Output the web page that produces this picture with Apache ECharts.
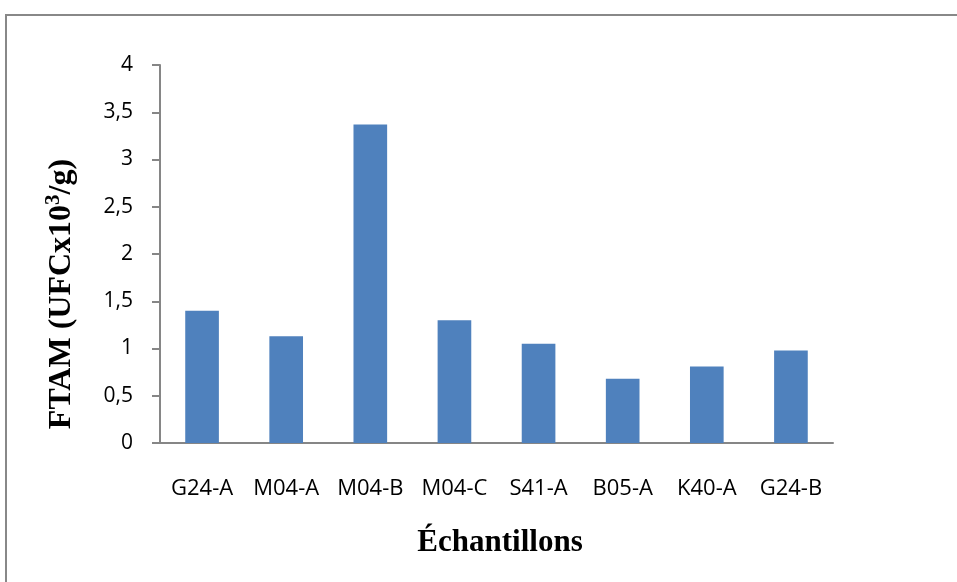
<!DOCTYPE html>
<html>
<head>
<meta charset="utf-8">
<script src="https://cdn.jsdelivr.net/npm/echarts@6/dist/echarts.min.js"></script>
<style>
  html, body { margin: 0; padding: 0; background: #fff; }
  #chart { width: 957px; height: 582px; }
</style>
</head>
<body>
<div id="chart"></div>
<script>
// échantillons et valeurs FTAM
const samples = ['G24-A', 'M04-A', 'M04-B', 'M04-C', 'S41-A', 'B05-A', 'K40-A', 'G24-B'];
const ftam = [1.40, 1.13, 3.37, 1.30, 1.05, 0.68, 0.81, 0.98];
const yTicks = [0, 0.5, 1, 1.5, 2, 2.5, 3, 3.5, 4];

const chart = echarts.init(document.getElementById('chart'));

const axisGray = '#868686';

const option = {
    animation: false,
    backgroundColor: '#fff',
    grid: {
        left: 160,
        right: 124,
        top: 65,
        bottom: 139
    },
    xAxis: {
        type: 'category',
        data: samples,
        axisLine: { lineStyle: { color: axisGray, width: 2 } },
        axisTick: { show: false },
        axisLabel: {
            interval: 0,
            hideOverlap: false,
            color: '#000',
            fontFamily: 'Open Sans',
            fontSize: 22,
            margin: 35
        }
    },
    yAxis: {
        type: 'value',
        min: yTicks[0],
        max: yTicks[yTicks.length - 1],
        interval: 0.5,
        axisLine: { show: true, lineStyle: { color: axisGray, width: 2 } },
        axisTick: { show: true, length: 8, lineStyle: { color: axisGray, width: 2 } },
        splitLine: { show: false },
        axisLabel: {
            color: '#000',
            fontFamily: 'Open Sans',
            fontSize: 21,
            margin: 27,
            formatter: (v) => String(v).replace('.', ',')
        }
    },
    series: [{
        type: 'bar',
        data: ftam,
        barWidth: '40%',
        itemStyle: { color: '#4F81BD' }
    }],
    graphic: [
        {
            type: 'rect',
            shape: { x: 6, y: 15, width: 1000, height: 700 },
            style: { fill: 'none', stroke: '#888', lineWidth: 2 },
            z: -1
        },
        {
            type: 'text',
            x: 62,
            y: 294,
            rotation: Math.PI / 2,
            style: {
                text: '{a|FTAM (UFCx10}{s|3}{a|/g)}',
                align: 'center',
                verticalAlign: 'middle',
                rich: {
                    a: { fontFamily: 'Liberation Serif', fontWeight: 'bold', fontSize: 32, lineHeight: 38, fill: '#000' },
                    s: { fontFamily: 'Liberation Serif', fontWeight: 'bold', fontSize: 21, lineHeight: 38, verticalAlign: 'top', fill: '#000' }
                }
            }
        },
        {
            type: 'text',
            x: 500,
            y: 543,
            style: {
                text: 'Échantillons',
                align: 'center',
                verticalAlign: 'middle',
                fontFamily: 'Liberation Serif',
                fontWeight: 'bold',
                fontSize: 31,
                fill: '#000'
            }
        }
    ]
};

chart.setOption(option);
</script>
</body>
</html>
